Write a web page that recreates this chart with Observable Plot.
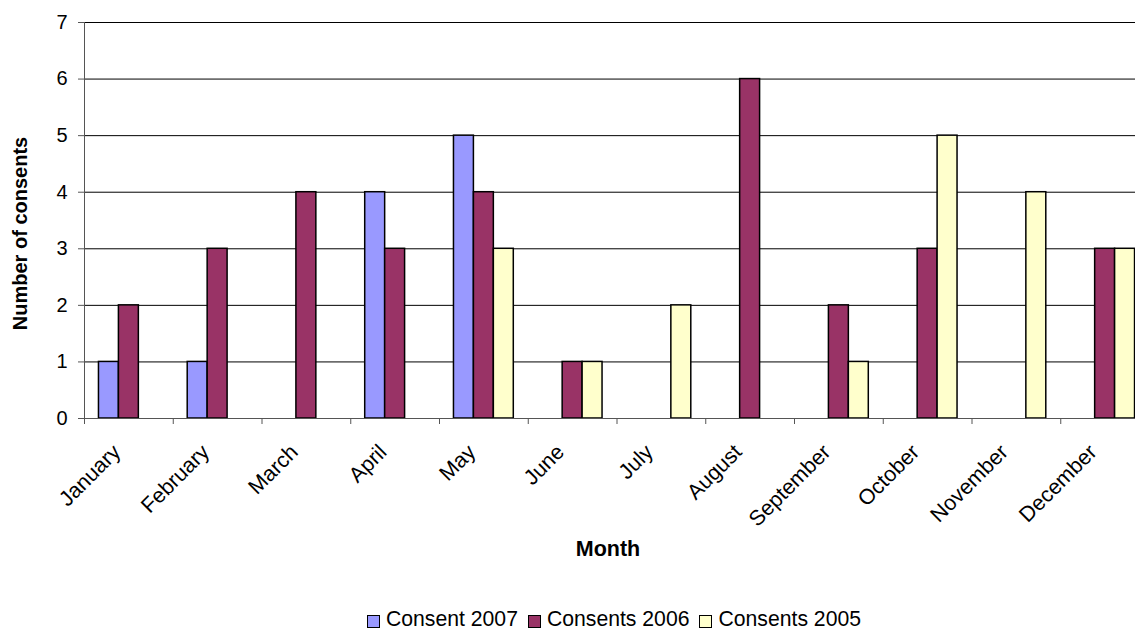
<!DOCTYPE html>
<html>
<head>
<meta charset="utf-8">
<script src="https://cdn.jsdelivr.net/npm/d3@7"></script>
<script src="https://cdn.jsdelivr.net/npm/@observablehq/plot@0.6"></script>
<style>
  html, body { margin: 0; padding: 0; background: #fff; overflow: hidden; }
  #wrap { width: 1135px; height: 630px; overflow: hidden; position: relative; font-family: "Liberation Sans", Arial, sans-serif; }
  #legend { position: absolute; left: 0; top: 607px; width: 1228px; display: flex; justify-content: center; align-items: center; font-size: 21.2px; line-height: 24px; color: #000; }
  #legend .item { display: flex; align-items: center; margin: 0 5px; }
  #legend .sw { width: 11px; height: 11px; border: 1px solid #000; margin-right: 6px; margin-top: 5px; }
</style>
</head>
<body>
<div id="wrap"><div id="chart"></div><div id="legend"></div></div>
<script>
// Monthly consent counts, one array per year
const months = ["January", "February", "March", "April", "May", "June",
  "July", "August", "September", "October", "November", "December"];
const consent2007 = [1, 1, 0, 4, 5, 0, 0, 0, 0, 0, 0, 0];
const consents2006 = [2, 3, 4, 3, 4, 1, 0, 6, 2, 3, 0, 3];
const consents2005 = [0, 0, 0, 0, 3, 1, 2, 0, 1, 5, 4, 3];
const seriesNames = ["Consent 2007", "Consents 2006", "Consents 2005"];
const seriesColors = ["#9999FF", "#993366", "#FFFFCC"];
const yTicks = [0, 1, 2, 3, 4, 5, 6, 7];

// Bar geometry inside each month band (in month units)
const barW = 1 / 4.45;
const groupOffset = (1 - 3 * barW) / 2;

const seriesValues = [consent2007, consents2006, consents2005];
const rows = [];
seriesValues.forEach((vals, s) => {
  vals.forEach((v, i) => {
    if (v > 0) rows.push({month: i, series: s, value: v});
  });
});

const font = "'Liberation Sans', Arial, sans-serif";

const chart = Plot.plot({
  width: 1160,
  height: 590,
  marginLeft: 84,
  marginRight: 11,
  marginTop: 22,
  marginBottom: 172,
  style: {fontFamily: font, fontSize: "20px", color: "#000", background: "#fff", maxWidth: "none"},
  x: {type: "linear", domain: [0, 12]},
  y: {domain: [0, 7]},
  marks: [
    Plot.gridY(yTicks, {stroke: "#000", strokeOpacity: 1, strokeWidth: 1}),
    Plot.axisY(yTicks, {tickSize: 6, tickPadding: 11, fontSize: 20, label: null, stroke: "#555", tickFormat: "d"}),
    // band boundary ticks
    Plot.axisX(d3.range(13), {tickSize: 6, tickFormat: () => "", label: null, stroke: "#555"}),
    // month names centred in each band
    Plot.axisX(months.map((m, i) => i + 0.5), {
      tickSize: 0, tickPadding: 30, tickRotate: -45, fontSize: 21.5, label: null, dx: -12,
      tickFormat: (d) => months[Math.floor(d)]
    }),
    Plot.rect(rows, {
      x1: (d) => d.month + groupOffset + d.series * barW,
      x2: (d) => d.month + groupOffset + (d.series + 1) * barW,
      y1: 0,
      y2: "value",
      fill: (d) => seriesColors[d.series],
      stroke: "#000",
      strokeWidth: 1.5
    }),
    Plot.ruleX([0], {stroke: "#555"}),
    Plot.ruleY([0], {stroke: "#555"}),
    Plot.text(["Month"], {frameAnchor: "bottom", dy: 137, dx: -9, fontSize: 21.5, fontWeight: "bold"}),
    Plot.text(["Number of consents"], {frameAnchor: "left", textAnchor: "middle", dx: -64, dy: 13, rotate: -90, fontSize: 20, fontWeight: "bold"})
  ]
});
chart.style.maxWidth = "none";
document.getElementById("chart").appendChild(chart);

// Legend below the plot
const legend = d3.select("#legend");
seriesNames.forEach((name, s) => {
  const item = legend.append("div").attr("class", "item");
  item.append("div").attr("class", "sw").style("background", seriesColors[s]);
  item.append("span").text(name);
});
</script>
</body>
</html>
